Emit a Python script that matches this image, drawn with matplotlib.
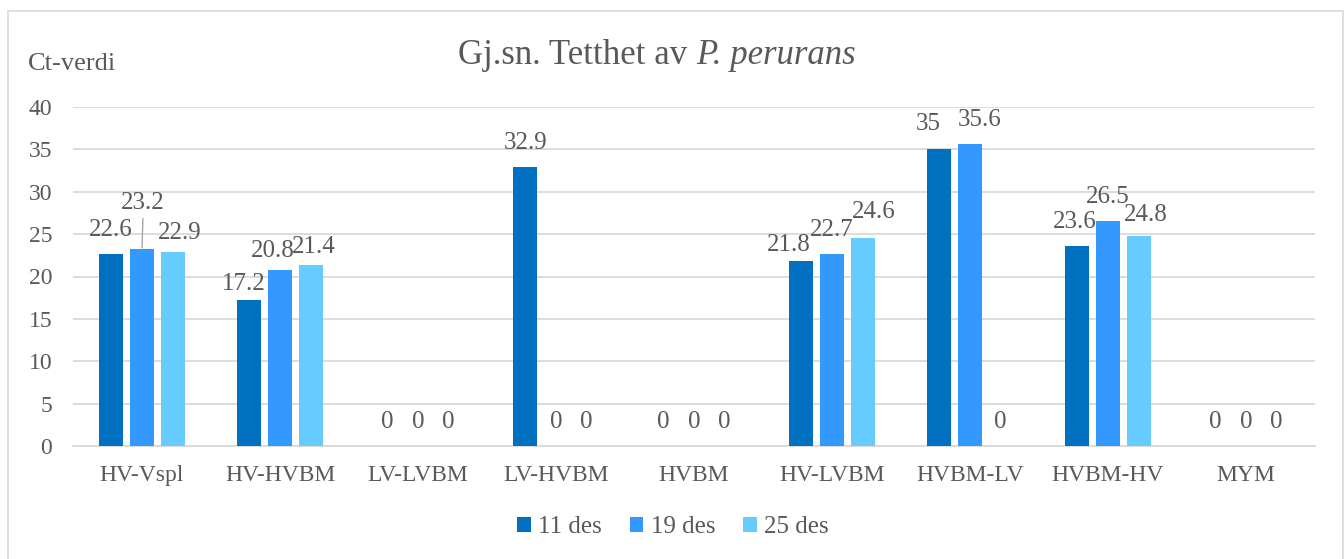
import numpy as np
import matplotlib
matplotlib.use('Agg')
import matplotlib.pyplot as plt
from matplotlib.patches import Rectangle

# data
categories = ['HV-Vspl', 'HV-HVBM', 'LV-LVBM', 'LV-HVBM', 'HVBM',
              'HV-LVBM', 'HVBM-LV', 'HVBM-HV', 'MYM']
series_names = ['11 des', '19 des', '25 des']
des11 = [22.6, 17.2, 0, 32.9, 0, 21.8, 35, 23.6, 0]
des19 = [23.2, 20.8, 0, 0, 0, 22.7, 35.6, 26.5, 0]
des25 = [22.9, 21.4, 0, 0, 0, 24.6, 0, 24.8, 0]
yticks = [0, 5, 10, 15, 20, 25, 30, 35, 40]

colors = ['#0070C0', '#3399FF', '#66CCFF']
txt = '#595959'
grid = '#D9D9D9'
fs = 17
fs_lab = 18

# label nudges in pixels (dx, dy above bar top), Excel moved some of them
default_off = (0, 24)
label_off = {
    (0, 0): (-1, 24), (0, 1): (1, 46), (0, 2): (7, 19),
    (1, 0): (-6, 16), (1, 1): (-7, 19), (1, 2): (3, 18),
    (5, 0): (-13, 16), (5, 2): (11, 26),
    (6, 0): (-11, 25), (6, 1): (10, 24),
    (7, 0): (-3, 24), (7, 2): (7, 21),
}

plt.rcParams['font.family'] = 'Liberation Serif'

W, H = 1344, 559
fig = plt.figure(figsize=(W / 100, H / 100), dpi=100)
ax = fig.add_axes([73 / W, 1 - 446 / H, (1315 - 73) / W, (446 - 107) / H])

x = np.arange(len(categories))
offsets = [-0.222, 0, 0.222]
width = 0.175
all_series = [des11, des19, des25]

for s, (vals, name) in enumerate(zip(all_series, series_names)):
    ax.bar(x + offsets[s], vals, width, color=colors[s], label=name, zorder=3)
    for g, v in enumerate(vals):
        dx, dy = label_off.get((g, s), default_off)
        lab = ('%g' % v)
        if (g, s) == (0, 1):
            ax.annotate(lab, xy=(x[g] + offsets[s], v), xytext=(dx, dy),
                        textcoords='offset pixels', ha='center', va='center',
                        fontsize=fs_lab, color=txt,
                        arrowprops=dict(arrowstyle='-', color='#A6A6A6', lw=1,
                                        shrinkA=1, shrinkB=1, relpos=(0.5, 0)))
        else:
            ax.annotate(lab, xy=(x[g] + offsets[s], v), xytext=(dx, dy),
                        textcoords='offset pixels', ha='center', va='center',
                        fontsize=fs_lab, color=txt)

ax.set_xlim(-0.5, len(categories) - 0.5)
ax.set_ylim(0, 40)
ax.set_yticks(yticks)
ax.set_xticks(x)
ax.set_xticklabels(categories)
ax.tick_params(axis='both', length=0, labelsize=fs, labelcolor=txt)
ax.tick_params(axis='x', pad=14)
ax.tick_params(axis='y', pad=15)
ax.yaxis.grid(True, color=grid, lw=1.3)
ax.set_axisbelow(True)
for sp in ['top', 'right', 'left']:
    ax.spines[sp].set_visible(False)
ax.spines['bottom'].set_color(grid)
ax.spines['bottom'].set_linewidth(1.3)

# title: regular part + italic species name, centred together
t1 = fig.text(0, 1 - 55 / H, 'Gj.sn. Tetthet av ', ha='left', va='center',
              fontsize=25, color=txt)
t2 = fig.text(0, 1 - 55 / H, 'P. perurans', ha='left', va='center',
              fontsize=25, color=txt, style='italic')
r = fig.canvas.get_renderer()
w1 = t1.get_window_extent(r).width
w2 = t2.get_window_extent(r).width
x0 = 657 - (w1 + w2) / 2
t1.set_x(x0 / W)
t2.set_x((x0 + w1) / W)

fig.text(28 / W, 1 - 64 / H, 'Ct-verdi', ha='left', va='center',
         fontsize=19, color=txt)

fig.legend(loc='center', bbox_to_anchor=(673 / W, 1 - 527 / H), ncol=3,
           frameon=False, fontsize=fs_lab, labelcolor=txt, handlelength=0.55,
           handleheight=0.55, handletextpad=0.3, columnspacing=1.1)

fig.add_artist(Rectangle((8 / W, -0.05), (1343 - 8) / W, 1.05 - 10.5 / H,
                         transform=fig.transFigure, fill=False,
                         edgecolor=grid, lw=1.2, clip_on=False))

fig.savefig('out.png', dpi=100)
